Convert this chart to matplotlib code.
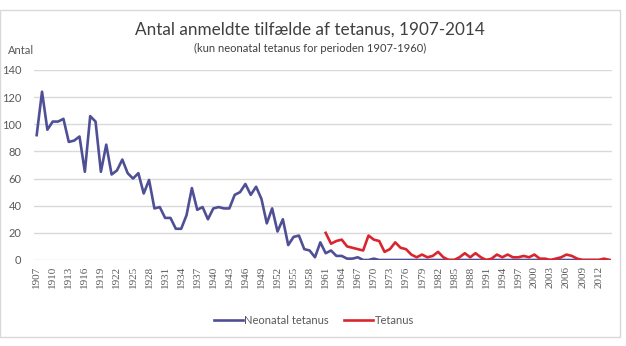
import numpy as np
import matplotlib.pyplot as plt
from matplotlib.patches import Rectangle

years = list(range(1907, 2015))

neonatal = [92, 124, 96, 102, 102, 104, 87, 88, 91, 65,
            106, 102, 65, 85, 63, 66, 74, 64, 60, 64,
            49, 59, 38, 39, 31, 31, 23, 23, 33, 53,
            37, 39, 30, 38, 39, 38, 38, 48, 50, 56,
            48, 54, 45, 27, 38, 21, 30, 11, 17, 18,
            8, 7, 2, 13, 5, 7, 3, 3, 1, 1,
            2, 0, 0, 1] + [0] * 44

tetanus_years = list(range(1961, 2015))
tetanus = [20, 12, 14, 15, 10, 9, 8, 7, 18, 15,
           14, 6, 8, 13, 9, 8, 4, 2, 4, 2,
           3, 6, 2, 0, 0, 2, 5, 2, 5, 2,
           0, 1, 4, 2, 4, 2, 2, 3, 2, 4,
           1, 1, 0, 1, 2, 4, 3, 1, 0, 0,
           0, 0, 1, 0]

blue = '#4F4F96'
red = '#D9262E'
grid_c = '#D9D9D9'
txt_c = '#595959'

fig = plt.figure(figsize=(6.26, 3.46), dpi=100)
ax = fig.add_axes([34 / 626, 1 - 260 / 346, 578 / 626, 190 / 346])

x = np.arange(len(years))
xt = x[len(years) - len(tetanus):]
ax.plot(x, neonatal, color=blue, lw=1.9, label='Neonatal tetanus')
ax.plot(xt, tetanus, color=red, lw=1.9, label='Tetanus')

ax.set_xlim(-0.5, len(years) - 0.5)
ax.set_ylim(0, 140)
ax.set_yticks(range(0, 141, 20))
ax.yaxis.grid(True, color=grid_c, lw=1)
ax.set_axisbelow(True)
for s in ax.spines.values():
    s.set_visible(False)
ax.tick_params(length=0)
ax.set_xticks(x[::3])
ax.set_xticklabels([str(y) for y in years[::3]], rotation=90,
                   family='Liberation Serif', fontsize=8, color=txt_c)
for lbl in ax.get_yticklabels():
    lbl.set_family('Lato')
    lbl.set_fontsize(8)
    lbl.set_color(txt_c)
ax.tick_params(axis='y', pad=9)
ax.tick_params(axis='x', pad=4)

# titler
fig.text(310 / 626, 1 - 30 / 346, 'Antal anmeldte tilfælde af tetanus, 1907-2014',
         ha='center', va='center', family='Lato', fontsize=12.3, color='#404040')
fig.text(310 / 626, 1 - 48 / 346, '(kun neonatal tetanus for perioden 1907-1960)',
         ha='center', va='center', family='Lato', fontsize=8, color='#404040')
fig.text(8 / 626, 1 - 51 / 346, 'Antal', ha='left', va='center',
         family='Lato', fontsize=8, color=txt_c)

leg = fig.legend(loc='center', bbox_to_anchor=(314 / 626, 1 - 320 / 346),
                 ncol=2, frameon=False, handlelength=2.6, handletextpad=0.15,
                 columnspacing=1.4, prop={'family': 'Lato', 'size': 8})
for t in leg.get_texts():
    t.set_color(txt_c)

fig.patches.append(Rectangle((0, 1 - 337 / 346), 620 / 626, 327 / 346,
                             transform=fig.transFigure, fill=False,
                             edgecolor=grid_c, lw=1))

fig.savefig('out.png', dpi=100)
